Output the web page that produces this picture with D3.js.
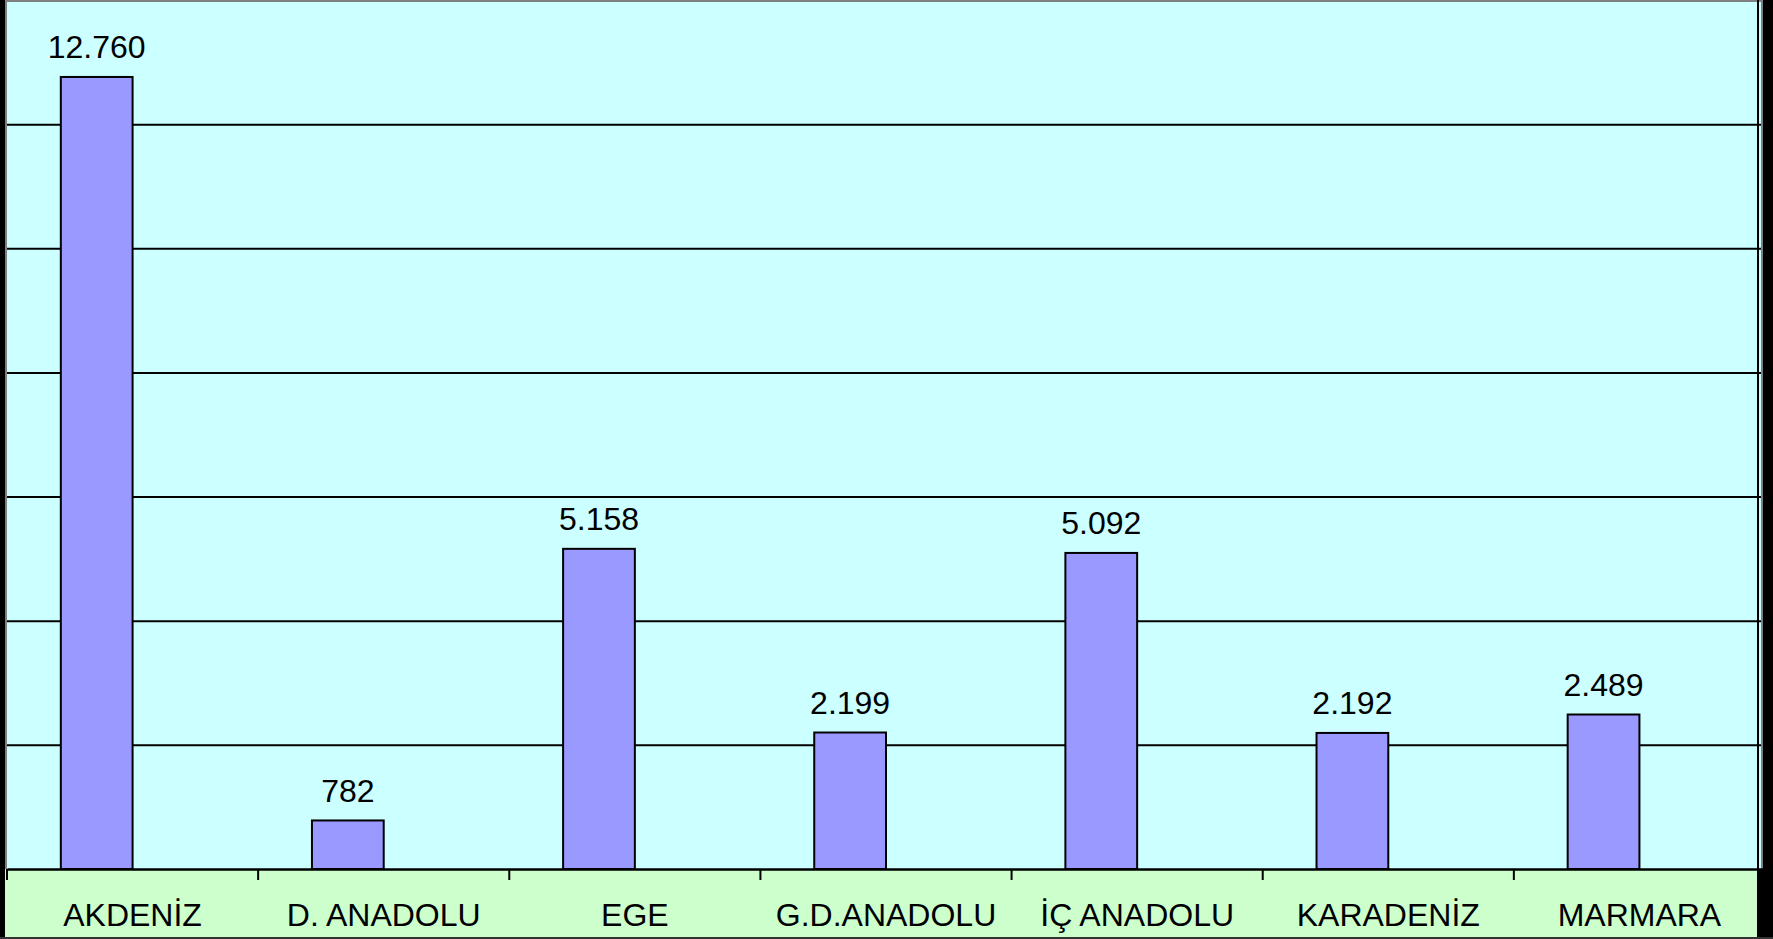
<!DOCTYPE html>
<html><head><meta charset="utf-8">
<script src="https://cdn.jsdelivr.net/npm/d3@7"></script>
<style>html,body{margin:0;padding:0;background:#000;overflow:hidden}</style>
</head><body>
<script>
const categories = ["AKDENİZ","D. ANADOLU","EGE","G.D.ANADOLU","İÇ ANADOLU","KARADENİZ","MARMARA"];
const values = [12760, 782, 5158, 2199, 5092, 2192, 2489];
const valueLabels = ["12.760","782","5.158","2.199","5.092","2.192","2.489"];
const gridTicks = [2000, 4000, 6000, 8000, 10000, 12000];
const yMax = 14000;

const W = 1773, H = 939;
const plotL = 7, plotR = 1765, plotT = 0, plotB = 869;

const svg = d3.select("body").append("svg").attr("width", W).attr("height", H)
  .style("display","block");

// outer frame
svg.append("rect").attr("x",0).attr("y",0).attr("width",W).attr("height",H).attr("fill","#000");
svg.append("rect").attr("x",5).attr("y",0).attr("width",1758).attr("height",937).attr("fill","#808080");
// plot area background
svg.append("rect").attr("x",plotL).attr("y",2).attr("width",1761-plotL).attr("height",plotB-2).attr("fill","#CCFFFF");
// bottom green band
svg.append("rect").attr("x",5).attr("y",plotB).attr("width",1757-5).attr("height",937-plotB).attr("fill","#CCFFCC");
svg.append("rect").attr("x",1757).attr("y",plotB).attr("width",W-1757).attr("height",H-plotB).attr("fill","#000");
svg.append("rect").attr("x",0).attr("y",937).attr("width",W).attr("height",2).attr("fill","#333");

const x = d3.scaleBand().domain(categories).range([plotL, plotR]).paddingInner(0).paddingOuter(0);
const y = d3.scaleLinear().domain([0, yMax]).range([plotB, plotT]);

// gridlines
const gridAxis = d3.axisLeft(y).tickValues(gridTicks).tickSize(-(1761-plotL)).tickFormat("");
const gg = svg.append("g").attr("transform",`translate(${plotL},0)`).call(gridAxis);
gg.select(".domain").remove();
gg.selectAll(".tick line").attr("stroke","#000").attr("stroke-width",2);

// right border line
svg.append("line").attr("x1",1758).attr("x2",1758).attr("y1",0).attr("y2",plotB)
  .attr("stroke","#000").attr("stroke-width",2);

// bars: clustered with an empty second series, gap width 150%
const bw = x.bandwidth() / 3.5;
svg.append("g").selectAll("rect").data(values).join("rect")
  .attr("x",(d,i)=>x(categories[i]) + 0.75*bw)
  .attr("y",d=>y(d))
  .attr("width",bw)
  .attr("height",d=>y(0)-y(d))
  .attr("fill","#9999FF").attr("stroke","#000").attr("stroke-width",2);

// value labels
svg.append("g").selectAll("text").data(values).join("text")
  .attr("x",(d,i)=>x(categories[i]) + 1.25*bw)
  .attr("y",d=>y(d)-18.5)
  .attr("text-anchor","middle")
  .attr("font-family","'Liberation Sans', Arial, sans-serif")
  .attr("font-size",32).attr("fill","#000")
  .text((d,i)=>valueLabels[i]);

// x axis
const xAxis = d3.axisBottom(x).tickSize(0).tickSizeOuter(0);
const ax = svg.append("g").attr("transform",`translate(0,${plotB})`).call(xAxis);
ax.select(".domain").attr("stroke","#000").attr("stroke-width",2.5);
ax.selectAll(".tick text").attr("font-family","'Liberation Sans', Arial, sans-serif")
  .attr("font-size",32).attr("fill","#000").attr("y",0).attr("dy",57);
// category boundary ticks
const bounds = categories.map(c=>x(c)).concat([plotR]);
svg.append("g").selectAll("line").data(bounds).join("line")
  .attr("x1",d=>d).attr("x2",d=>d).attr("y1",plotB).attr("y2",plotB+11)
  .attr("stroke","#000").attr("stroke-width",2);
</script>
</body></html>
